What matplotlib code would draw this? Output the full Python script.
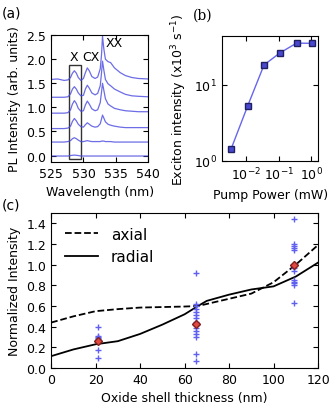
import matplotlib
matplotlib.use('Agg')
from matplotlib import pyplot as plt

plt.rcParams['font.family'] = 'DejaVu Sans'
plt.rcParams['font.size'] = 9
plt.rcParams['xtick.direction'] = 'in'
plt.rcParams['ytick.direction'] = 'in'
plt.rcParams['xtick.top'] = True
plt.rcParams['ytick.right'] = True

# (a) PL spectra
wavelength = [525, 526, 527, 527.6, 528.0, 528.3, 528.6, 528.9, 529.2, 529.6, 530.0, 530.3, 530.6,
              530.9, 531.3, 531.8, 532.2, 532.6, 532.8, 532.95, 533.15, 533.4, 533.8, 534.2,
              534.8, 535.7, 536.5, 537.5, 538.5, 540]
spec1 = [-0.01, -0.01, -0.01, -0.01, 0.0, 0.005, 0.01, 0.005, 0.0, -0.01, -0.01, -0.01, -0.01,
         -0.01, -0.01, -0.01, -0.01, -0.01, -0.01, -0.01, -0.01, -0.01, -0.01, -0.01,
         -0.01, -0.01, -0.01, -0.01, -0.01, -0.01]
spec2 = [0.28, 0.28, 0.28, 0.29, 0.31, 0.35, 0.37, 0.35, 0.32, 0.29, 0.29, 0.30, 0.31,
         0.30, 0.29, 0.29, 0.29, 0.29, 0.30, 0.30, 0.30, 0.29, 0.29, 0.29,
         0.28, 0.28, 0.28, 0.28, 0.28, 0.28]
spec3 = [0.56, 0.56, 0.56, 0.57, 0.61, 0.71, 0.77, 0.72, 0.65, 0.60, 0.59, 0.64, 0.68,
         0.65, 0.61, 0.59, 0.60, 0.66, 0.76, 0.84, 0.78, 0.70, 0.65, 0.63,
         0.61, 0.59, 0.58, 0.58, 0.58, 0.58]
spec4 = [0.88, 0.88, 0.88, 0.89, 0.95, 1.07, 1.14, 1.08, 0.98, 0.92, 0.93, 1.05, 1.13,
         1.07, 0.97, 0.93, 0.95, 1.10, 1.32, 1.50, 1.36, 1.18, 1.07, 1.03,
         0.98, 0.95, 0.93, 0.92, 0.91, 0.91]
spec5 = [1.21, 1.21, 1.21, 1.22, 1.28, 1.38, 1.43, 1.38, 1.30, 1.24, 1.25, 1.38, 1.46,
         1.40, 1.30, 1.26, 1.29, 1.45, 1.72, 1.96, 1.78, 1.58, 1.49, 1.45,
         1.38, 1.32, 1.27, 1.24, 1.23, 1.22]
spec6 = [1.58, 1.59, 1.56, 1.57, 1.62, 1.71, 1.76, 1.71, 1.62, 1.56, 1.60, 1.72, 1.82,
         1.76, 1.64, 1.60, 1.63, 1.80, 2.10, 2.48, 2.22, 2.00, 1.95, 1.93,
         1.82, 1.72, 1.66, 1.62, 1.60, 1.59]
spectra = [spec1, spec2, spec3, spec4, spec5, spec6]

# (b) power dependence
pump_power = [0.0034, 0.011, 0.035, 0.11, 0.35, 1.05]
exciton_int = [1.44, 5.3, 18.3, 26.5, 35.4, 35.2]

# (c) intensity vs shell thickness
model_x = [0, 10, 20, 30, 40, 50, 60, 66, 70, 80, 90, 100, 110, 120]
axial = [0.44, 0.50, 0.55, 0.57, 0.585, 0.59, 0.595, 0.60, 0.62, 0.67, 0.72, 0.83, 1.0, 1.19]
radial = [0.115, 0.18, 0.23, 0.26, 0.33, 0.42, 0.52, 0.60, 0.65, 0.71, 0.76, 0.79, 0.885, 1.02]

meas_x = [21] * 8 + [65] * 15 + [109] * 12
meas_y = [0.40, 0.31, 0.30, 0.29, 0.28, 0.26, 0.17, 0.10,
          0.92, 0.62, 0.60, 0.57, 0.54, 0.51, 0.48, 0.45, 0.42, 0.39, 0.36, 0.33, 0.30, 0.14, 0.07,
          1.44, 1.20, 1.18, 1.16, 1.14, 0.97, 0.94, 0.85, 0.83, 0.82, 0.80, 0.63]
mean_x = [21, 65, 109]
mean_y = [0.26, 0.43, 1.0]

fig = plt.figure(figsize=(3.32, 4.06), dpi=100)
ax_a = fig.add_axes([0.154, 0.599, 0.292, 0.312])
ax_b = fig.add_axes([0.669, 0.601, 0.289, 0.308])
ax_c = fig.add_axes([0.154, 0.091, 0.804, 0.382])

# panel a
for s in spectra:
    ax_a.plot(wavelength, s, color='#4848e0', lw=0.9, alpha=0.8)
ax_a.add_patch(plt.Rectangle((527.7, -0.07), 1.9, 1.96, fill=False, ec='#333333', lw=1))
ax_a.text(528.6, 2.05, 'X', ha='center', va='center')
ax_a.text(531.2, 2.05, 'CX', ha='center', va='center')
ax_a.text(534.8, 2.35, 'XX', ha='center', va='center')
ax_a.set_xlim(525, 540)
ax_a.set_ylim(-0.13, 2.5)
ax_a.set_xticks([525, 530, 535, 540])
ax_a.set_yticks([0.0, 0.5, 1.0, 1.5, 2.0, 2.5])
ax_a.set_xlabel('Wavelength (nm)')
ax_a.set_ylabel('PL Intensity (arb. units)')

# panel b
ax_b.plot(pump_power, exciton_int, '-s', color='#6666ee', lw=1,
          mfc='#4848d0', mec='#202060', ms=4.5)
ax_b.set_xscale('log')
ax_b.set_yscale('log')
ax_b.set_xlim(0.0018, 1.6)
ax_b.set_ylim(1, 44)
ax_b.minorticks_off()
ax_b.set_xlabel('Pump Power (mW)')
ax_b.set_ylabel('Exciton intensity (x10$^3$ s$^{-1}$)')

# panel c
ax_c.plot(model_x, axial, 'k--', lw=1.3, label='axial')
ax_c.plot(model_x, radial, 'k-', lw=1.3, label='radial')
ax_c.plot(meas_x, meas_y, '+', color='#6060f0', ms=4.5, mew=1)
ax_c.plot(mean_x, mean_y, 'D', mfc='#e04840', mec='#802020', ms=4)
ax_c.set_xlim(0, 120)
ax_c.set_ylim(0, 1.5)
ax_c.set_yticks([0.0, 0.2, 0.4, 0.6, 0.8, 1.0, 1.2, 1.4])
ax_c.set_xlabel('Oxide shell thickness (nm)')
ax_c.set_ylabel('Normalized Intensity')
ax_c.legend(loc='upper left', frameon=False, fontsize=11, handlelength=2.2)

fig.text(0.006, 0.956, '(a)', fontsize=10)
fig.text(0.58, 0.952, '(b)', fontsize=10, family='serif')
fig.text(0.006, 0.485, '(c)', fontsize=10)

plt.savefig('out.png')
